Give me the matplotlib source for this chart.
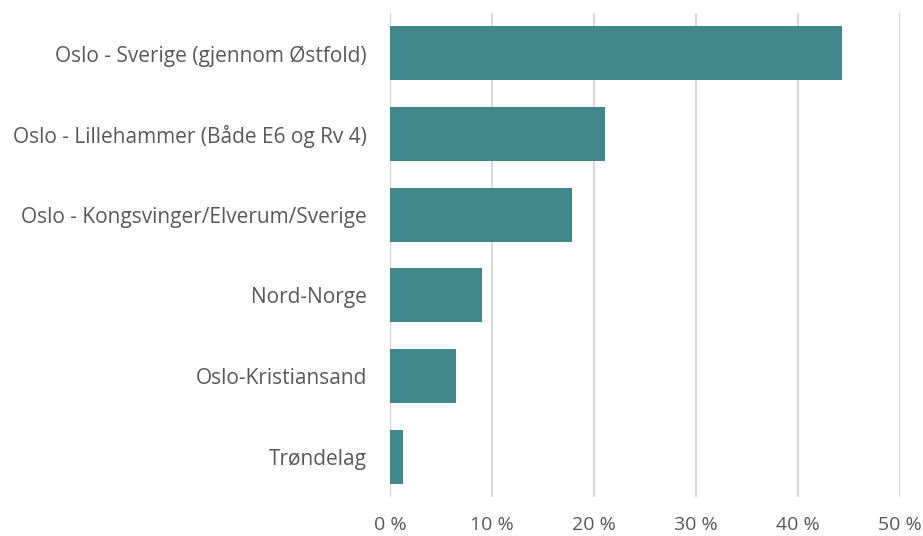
import matplotlib
matplotlib.use("Agg")
import matplotlib.pyplot as plt
from matplotlib.ticker import FuncFormatter

categories = [
    "Oslo - Sverige (gjennom Østfold)",
    "Oslo - Lillehammer (Både E6 og Rv 4)",
    "Oslo - Kongsvinger/Elverum/Sverige",
    "Nord-Norge",
    "Oslo-Kristiansand",
    "Trøndelag",
]
values = [44.3, 21.1, 17.8, 9.0, 6.5, 1.3]
xticks = [0, 10, 20, 30, 40, 50]

bar_color = "#40868A"
text_color = "#595959"
grid_color = "#D9D9D9"

plt.rcParams["font.family"] = ["Open Sans", "DejaVu Sans"]

fig = plt.figure(figsize=(9.23, 5.36), dpi=100)
ax = fig.add_axes([390 / 923, 39 / 536, 510 / 923, 484 / 536])

ypos = list(range(len(categories)))
ax.barh(ypos, values, height=0.67, color=bar_color, zorder=3)
ax.set_ylim(len(categories) - 0.5, -0.5)
ax.set_xlim(0, 50)
ax.set_yticks(ypos)
ax.set_yticklabels(categories)
ax.set_xticks(xticks)
ax.xaxis.set_major_formatter(FuncFormatter(lambda v, p: f"{int(v)} %"))

ax.grid(axis="x", color=grid_color, linewidth=1.5, zorder=0)
for s in ax.spines.values():
    s.set_visible(False)
ax.tick_params(axis="both", length=0, colors=text_color)
ax.tick_params(axis="y", labelsize=15, pad=16.5)
ax.tick_params(axis="x", labelsize=14, pad=14)

fig.savefig("out.png", dpi=100)
